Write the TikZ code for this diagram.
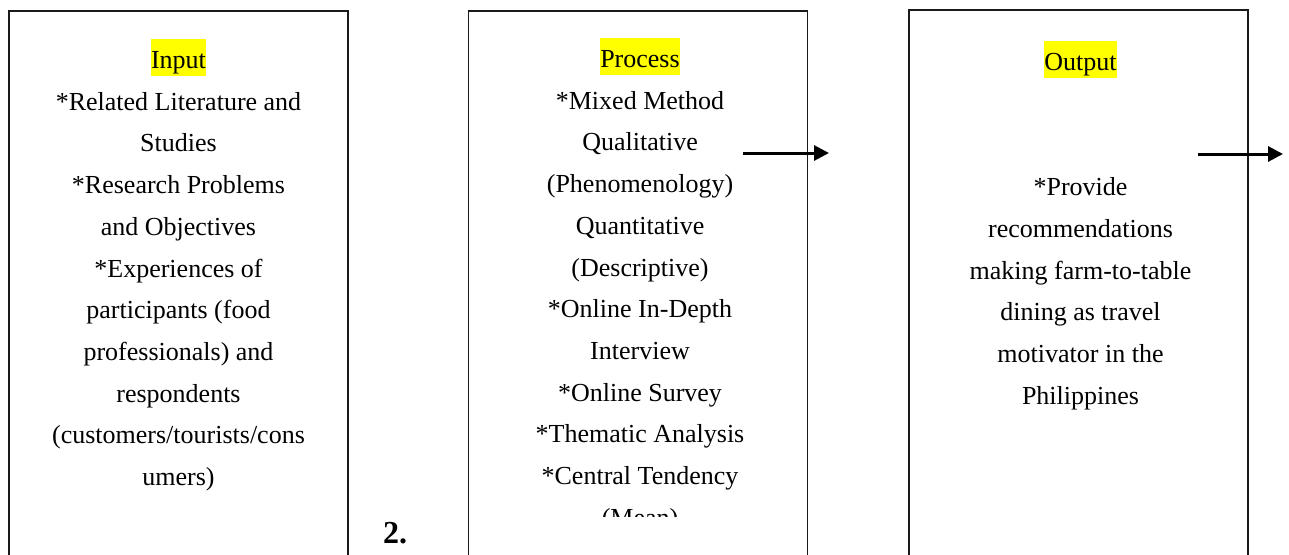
\documentclass[tikz,border=0pt]{standalone}
\usepackage{fontspec}
\setmainfont{Liberation Serif}
\usetikzlibrary{positioning,arrows.meta}
\definecolor{ipoInk}{HTML}{1A1A1A}
\definecolor{ipoMark}{HTML}{FFFF00}
% yellow marker behind the stage titles
\newcommand{\hilite}[1]{{\setlength{\fboxsep}{0pt}\colorbox{ipoMark}{\rule[-7pt]{0pt}{37pt}#1}}}

\begin{document}
\begin{tikzpicture}[x=1pt,y=-1pt,
                    stage/.style={draw=ipoInk,line width=1.3pt,inner sep=0pt,
                                  minimum width=339pt,minimum height=590pt},
                    body/.style={align=center,inner sep=0pt,text=black,
                                 font=\fontsize{26}{41.7}\selectfont},
                    flow/.style={line width=3pt,-{Triangle[length=15pt,width=15pt]}}]
  \useasboundingbox (0,0) rectangle (1289,554);
  \clip (0,0) rectangle (1289,554);

  \node[stage] (inbox) at (178.5,306) {};
  \node[stage] (prbox) at (638,306) {};
  \node[stage] (outbox) at (1078.5,305) {};

  \node[body,below=28pt of inbox.north] (intext) {\hilite{Input}\\
    *Related Literature and\\ Studies\\ *Research Problems\\ and Objectives\\
    *Experiences of\\ participants (food\\ professionals) and\\ respondents\\
    (customers/tourists/cons\\ umers)};

  % the last line runs past the bottom of the text frame
  \coordinate (cut) at (0,516);
  \begin{scope}
    \clip (prbox.north west) rectangle (prbox.east |- cut);
    \node[body,below=27pt of prbox.north,xshift=2pt] (prtext) {\hilite{Process}\\
      *Mixed Method\\ Qualitative\\ (Phenomenology)\\ Quantitative\\ (Descriptive)\\
      *Online In-Depth\\ Interview\\ *Online Survey\\ *Thematic Analysis\\
      *Central Tendency\\ (Mean)};
  \end{scope}

  \node[body,below=31pt of outbox.north,xshift=2pt] (outtext) {\hilite{Output}\\[83.4pt]
    *Provide\\ recommendations\\ making farm-to-table\\ dining as travel\\
    motivator in the\\ Philippines};

  \node[font=\fontsize{32}{38}\selectfont\bfseries,anchor=base] (fignum) at (395,543) {2.};

  \coordinate (f1s) at (743,153);
  \coordinate (f1e) at (829,153);
  \coordinate (f2s) at (1198,154);
  \coordinate (f2e) at (1283,154);
  \draw[flow] (f1s) -- (f1e);
  \draw[flow] (f2s) -- (f2e);
\end{tikzpicture}
\end{document}
